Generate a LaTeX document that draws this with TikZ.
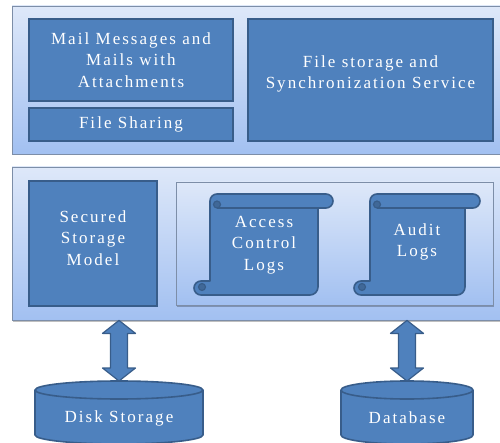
\documentclass[tikz,border=0pt]{standalone}
\usepackage{fontspec}
\newfontfamily\lblfont[LetterSpace=12]{Liberation Serif}
\usetikzlibrary{calc,shadows}

\definecolor{boxfill}{RGB}{79,129,189}
\definecolor{boxline}{RGB}{56,93,138}
\definecolor{curl}{RGB}{64,104,152}
\definecolor{paneltop}{RGB}{222,232,249}
\definecolor{panelbot}{RGB}{162,192,241}
\definecolor{panelline}{RGB}{125,142,168}

\tikzset{
  lbl/.style={text=white, font=\lblfont\fontsize{17}{21.7}\selectfont, align=center, inner sep=0pt},
  blk/.style={lbl, draw=boxline, fill=boxfill, line width=1.6pt},
  panel/.style={draw=panelline, line width=0.8pt, top color=paneltop, bottom color=panelbot,
    inner sep=0pt, drop shadow={shadow xshift=1pt, shadow yshift=-1.5pt, fill=black, opacity=0.25}},
  shapeline/.style={draw=boxline, fill=boxfill, line width=1.6pt, line join=round},
  edgeline/.style={draw=boxline, line width=1.6pt, line join=round},
}

% vertical scroll: #1,#2 top-left corner, #3 width, #4 height
\newcommand\scrollshape[4]{%
  \begin{scope}[shift={(#1,#2)}]
    \draw[shapeline] (18,7) arc[start angle=180, end angle=270, radius=7]
      -- (#3-7,0) arc[start angle=270, end angle=450, radius=7]
      -- (#3-15,14) -- (#3-15,#4-8) arc[start angle=0, end angle=90, radius=8]
      -- (9,#4) arc[start angle=90, end angle=270, radius=7]
      -- (18,#4-14) -- cycle;
    \draw[edgeline] (25,14) -- (#3-15,14);
    \filldraw[edgeline, fill=curl, line width=1.2pt] (25,10.5) circle[radius=3.5];
    \filldraw[edgeline, fill=curl, line width=1.2pt] (10,#4-8) circle[radius=3.5];
  \end{scope}}

% upright cylinder: #1 left x, #2 right x, #3 top centre y, #4 bottom centre y
\newcommand\cylshape[4]{%
  \draw[shapeline] (#1,#3) -- (#1,#4)
    arc[start angle=180, end angle=0, x radius={(#2-#1)/2}, y radius=9]
    -- (#2,#3) arc[start angle=0, end angle=-180, x radius={(#2-#1)/2}, y radius=9] -- cycle;
  \draw[edgeline] (#1,#3) arc[start angle=180, end angle=0, x radius={(#2-#1)/2}, y radius=9];}

% block double arrow between two points on one vertical
\newcommand\dblarrow[2]{%
  \draw[shapeline, line width=1.2pt] let \p1=#1, \p2=#2 in
    (\x1,\y1) -- (\x1+16.5pt,\y1-13pt) -- (\x1+8.5pt,\y1-13pt) -- (\x1+8.5pt,\y2+13pt)
    -- (\x1+16.5pt,\y2+13pt) -- (\x1,\y2) -- (\x1-16.5pt,\y2+13pt) -- (\x1-8.5pt,\y2+13pt)
    -- (\x1-8.5pt,\y1-13pt) -- (\x1-16.5pt,\y1-13pt) -- cycle;}

\begin{document}
\begin{tikzpicture}[x=1pt,y=-1pt]
\useasboundingbox (0,0) rectangle (500,443);

% application layer
\node[panel, minimum width=489pt, minimum height=148pt] (upper) at (256.5,80) {};
\node[blk, minimum width=204pt, minimum height=82pt] (mail) at (131,60)
  {Mail Messages and\\Mails with\\Attachments};
\node[blk, minimum width=204pt, minimum height=33pt] (share) at (131,124.5) {File Sharing};
\node[blk, minimum width=245pt, minimum height=122pt] (sync) at (370.5,80) {};
\node[lbl] (synctext) at (370.5,74) {File storage and\\Synchronization Service};

% storage layer
\node[panel, minimum width=489pt, minimum height=153pt] (lower) at (256.5,243.5) {};
\node[blk, minimum width=128pt, minimum height=125pt] (secured) at (93,243.5) {};
\node[lbl] (securedtext) at (93,238) {Secured\\Storage\\Model};
\node[panel, minimum width=317pt, minimum height=123pt] (logs) at (334.5,243.5) {};

\scrollshape{192}{194}{141}{101}
\scrollshape{352}{194}{128}{101}
\node[lbl] (acl) at (264,245) {Access\\Control\\Logs};
\node[lbl] (audit) at (417,242) {Audit\\Logs};

% back-end stores
\cylshape{35}{203}{390}{435}
\cylshape{341}{473}{390}{435}
\coordinate (disktop) at (119,381);
\coordinate (dbtop) at (407,381);
\node[lbl] (disk) at (119,418) {Disk Storage};
\node[lbl] (db) at (407,418) {Database};

\dblarrow{(lower.south -| disktop)}{(disktop)}
\dblarrow{(lower.south -| dbtop)}{(dbtop)}
\end{tikzpicture}
\end{document}
